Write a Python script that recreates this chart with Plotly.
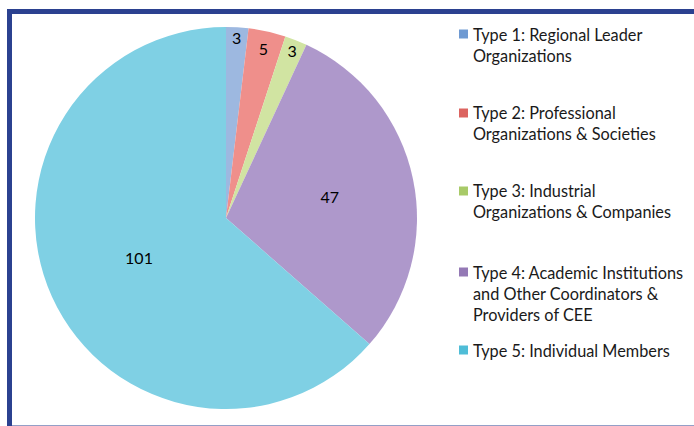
import plotly.graph_objects as go

W, H = 694, 426

categories = [
    "Type 1: Regional Leader<br>Organizations",
    "Type 2: Professional<br>Organizations & Societies",
    "Type 3: Industrial<br>Organizations & Companies",
    "Type 4: Academic Institutions<br>and Other Coordinators &<br>Providers of CEE",
    "Type 5: Individual Members",
]
values = [3, 5, 3, 47, 101]
slice_colors = ["#9db8e0", "#ef8f8b", "#d1e4a2", "#ae98cb", "#7fd0e4"]
legend_colors = ["#6f9ad2", "#dc6460", "#a8ca68", "#9479b5", "#4fbdd7"]

FONT = "Lato"

fig = go.Figure()
fig.add_trace(go.Pie(
    values=values,
    labels=[c.replace("<br>", " ") for c in categories],
    sort=False,
    direction="clockwise",
    rotation=0,
    marker=dict(colors=slice_colors, line=dict(width=0)),
    textinfo="value",
    textposition="inside",
    insidetextorientation="horizontal",
    textfont=dict(family=FONT, size=16, color="#000000"),
    domain=dict(x=[35 / W, 417 / W], y=[1 - 409 / H, 1 - 27 / H]),
    showlegend=False,
    hoverinfo="label+value",
))

# manual legend (symbol aligned with first line of text)
first_line_centers = [34, 113, 191, 272, 350]
shapes = []
annotations = []
for cat, col, yc in zip(categories, legend_colors, first_line_centers):
    shapes.append(dict(type="rect", xref="paper", yref="paper",
                       x0=459 / W, x1=468 / W,
                       y0=1 - (yc + 4.5) / H, y1=1 - (yc - 4.5) / H,
                       fillcolor=col, line=dict(width=0)))
    annotations.append(dict(text=cat, xref="paper", yref="paper",
                            x=471 / W, y=1 - (yc - 11.5) / H,
                            xanchor="left", yanchor="top", align="left",
                            showarrow=False,
                            font=dict(family=FONT, size=16.3, color="#1a1a1a")))

# frame
shapes.append(dict(type="rect", xref="paper", yref="paper",
                   x0=9.5 / W, x1=720 / W, y0=1 - 428 / H, y1=1 - 11.5 / H,
                   line=dict(color="#2b4190", width=5), fillcolor="rgba(0,0,0,0)"))

fig.update_layout(
    width=W, height=H,
    margin=dict(l=0, r=0, t=0, b=0),
    paper_bgcolor="white",
    plot_bgcolor="white",
    shapes=shapes,
    annotations=annotations,
    font=dict(family=FONT),
)

fig.write_html("out.html",
               config={"displayModeBar": False},
               post_script="document.body.style.margin='0';document.body.style.overflow='hidden';")
